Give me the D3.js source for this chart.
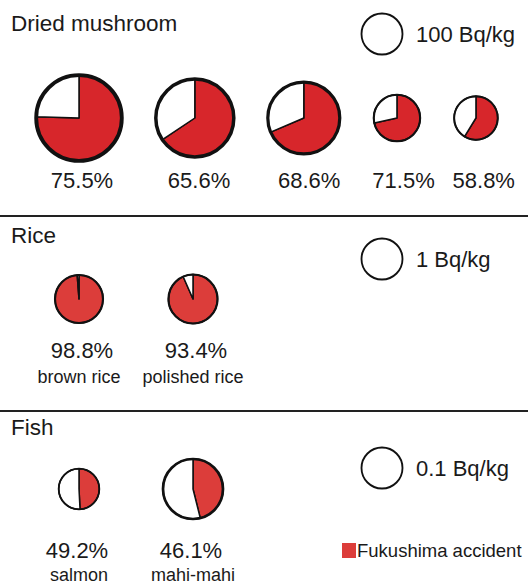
<!DOCTYPE html>
<html>
<head>
<meta charset="utf-8">
<script src="https://cdn.jsdelivr.net/npm/d3@7"></script>
<style>
  html, body { margin: 0; padding: 0; background: #fff; }
  svg { display: block; font-family: "Liberation Sans", Arial, sans-serif; }
</style>
</head>
<body>
<svg id="chart" width="528" height="585"></svg>
<script>
// ---- data ----
const sectionTitles = ["Dried mushroom", "Rice", "Fish"];
const refValues = [100, 1, 0.1];
const refLabels = ["100 Bq/kg", "1 Bq/kg", "0.1 Bq/kg"];

const mushroomPct = [75.5, 65.6, 68.6, 71.5, 58.8];
const mushroomBq = [436, 362, 308, 128, 113];
const mushroomNames = ["", "", "", "", ""];

const ricePct = [98.8, 93.4];
const riceBq = [1.37, 1.43];
const riceNames = ["brown rice", "polished rice"];

const fishPct = [49.2, 46.1];
const fishBq = [0.098, 0.214];
const fishNames = ["salmon", "mahi-mahi"];

const legendLabel = "Fukushima accident";

// ---- layout ----
const W = 528, H = 585;
const svg = d3.select("#chart");
const textColor = "#1a1a1a";

const sections = [
  { title: sectionTitles[0], ref: refValues[0], refLabel: refLabels[0], pct: mushroomPct, bq: mushroomBq, names: mushroomNames,
    top: 0, color: "#d7262b", packed: true },
  { title: sectionTitles[1], ref: refValues[1], refLabel: refLabels[1], pct: ricePct, bq: riceBq, names: riceNames,
    top: 212, color: "#dc3d3a", packed: false },
  { title: sectionTitles[2], ref: refValues[2], refLabel: refLabels[2], pct: fishPct, bq: fishBq, names: fishNames,
    top: 407, color: "#dc3d3a", packed: false }
];
// vertical offsets within each section
const layout = [
  { titleY: 31, refY: 34, pieY: 118, pctY: 188, nameY: 0, pctDx: 3 },
  { titleY: 31, refY: 47, pieY: 87, pctY: 146, nameY: 171, pctDx: 3 },
  { titleY: 28, refY: 61, pieY: 82, pctY: 151, nameY: 174, pctDx: -2 }
];

const refR = 20.5;
const pie = d3.pie().sort(null).value(d => d);

sections.forEach((s, si) => {
  const L = layout[si];
  const g = svg.append("g").attr("transform", `translate(0,${s.top})`);

  if (si > 0) {
    g.append("line").attr("x1", 0).attr("x2", W).attr("y1", 4).attr("y2", 4)
      .attr("stroke", "#222").attr("stroke-width", 2);
  }

  g.append("text").attr("x", 11).attr("y", L.titleY)
    .attr("font-size", 22.5).attr("fill", textColor).text(s.title);

  const rScale = d3.scaleSqrt().domain([0, s.ref]).range([0, refR]);

  // reference circle
  g.append("circle").attr("cx", 382).attr("cy", L.refY).attr("r", rScale(s.ref))
    .attr("fill", "#fff").attr("stroke", "#111").attr("stroke-width", rScale(s.ref) * 0.09);
  g.append("text").attr("x", 416).attr("y", L.refY + 7.5)
    .attr("font-size", 22).attr("fill", textColor).text(s.refLabel);

  // x positions
  const radii = s.bq.map(v => rScale(v));
  const xs = [];
  if (s.packed) {
    radii.forEach((r, i) => {
      xs.push(i === 0 ? 79 : xs[i - 1] + radii[i - 1] + r + 34);
    });
  } else {
    const xScale = d3.scalePoint().domain(d3.range(s.pct.length)).range([79, 193]);
    s.pct.forEach((_, i) => xs.push(xScale(i)));
  }

  s.pct.forEach((p, i) => {
    const r = radii[i];
    const cx = xs[i];
    const pg = g.append("g").attr("transform", `translate(${cx},${L.pieY})`);
    const arcs = pie([p, 100 - p]);
    const arc = d3.arc().innerRadius(0).outerRadius(r);
    pg.selectAll("path").data(arcs).join("path")
      .attr("d", arc)
      .attr("fill", (d, k) => k === 0 ? s.color : "#fff")
      .attr("stroke", "#111").attr("stroke-width", 1.5).attr("stroke-linejoin", "round");
    pg.append("circle").attr("r", r).attr("fill", "none")
      .attr("stroke", "#111").attr("stroke-width", r * 0.09);

    g.append("text").attr("x", cx + L.pctDx + (s.packed ? i * 1.2 : 0)).attr("y", L.pctY)
      .attr("text-anchor", "middle").attr("font-size", 22).attr("fill", textColor)
      .text(p.toFixed(1) + "%");
    if (s.names[i]) {
      g.append("text").attr("x", cx).attr("y", L.nameY)
        .attr("text-anchor", "middle").attr("font-size", 18).attr("fill", textColor)
        .text(s.names[i]);
    }
  });
});

// legend
const lg = svg.append("g").attr("transform", "translate(342,543)");
lg.append("rect").attr("width", 14).attr("height", 15).attr("fill", "#dc3d3a");
lg.append("text").attr("x", 15).attr("y", 14).attr("font-size", 18.5).attr("fill", textColor).text(legendLabel);
</script>
</body>
</html>
